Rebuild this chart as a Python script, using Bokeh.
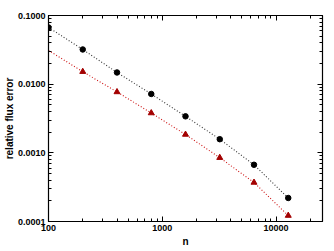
from bokeh.plotting import figure
from bokeh.models import Range1d, LogAxis, LogTicker, PrintfTickFormatter
from bokeh.embed import file_html
from bokeh.resources import INLINE

# data
n_black = [100, 200, 400, 800, 1600, 3200, 6400, 12800]
err_black = [0.067, 0.032, 0.0148, 0.0072, 0.0034, 0.00158, 0.00067, 0.00022]
n_red = [200, 400, 800, 1600, 3200, 6400, 12800]
err_red = [0.0152, 0.0077, 0.0038, 0.00185, 0.00085, 0.00037, 0.000122]
# dotted fit curves
fit_n_black = [100, 200, 400, 800, 1600, 3200, 6400, 12800]
fit_black = [0.067, 0.032, 0.0148, 0.0072, 0.0034, 0.00158, 0.00067, 0.00022]
fit_n_red = [100, 200, 400, 800, 1600, 3200, 6400, 12800]
fit_red = [0.031, 0.0152, 0.0077, 0.0038, 0.00185, 0.00085, 0.00037, 0.000122]
x_lo, x_hi = 100, 25600
y_lo, y_hi = 1e-4, 1e-1

FONT = "Liberation Sans"

p = figure(frame_width=274, frame_height=206, x_axis_type="log", y_axis_type="log",
           x_range=Range1d(x_lo, x_hi), y_range=Range1d(y_lo, y_hi),
           output_backend="svg", toolbar_location=None,
           min_border_left=38, min_border_right=6, min_border_top=15, min_border_bottom=20)
p.xgrid.visible = False
p.ygrid.visible = False
p.outline_line_color = None
p.background_fill_color = "white"
p.border_fill_color = "white"

p.line(fit_n_black, fit_black, line_color="#333333", line_dash="1 2", line_width=1.1)
p.line(fit_n_red, fit_red, line_color="#cc1111", line_dash="1 2", line_width=1.1)
p.scatter(n_black, err_black, marker="circle", size=5.5, fill_color="black", line_color="black")
p.scatter(n_red, err_red, marker="triangle", size=6, fill_color="#a30000", line_color="#a30000")


def style(ax, labels=True):
    ax.axis_line_color = "black"
    ax.axis_line_width = 1.2
    ax.major_tick_in = 5
    ax.major_tick_out = 0
    ax.minor_tick_in = 3
    ax.minor_tick_out = 0
    ax.major_tick_line_color = "black"
    ax.minor_tick_line_color = "black"
    ax.ticker = LogTicker(num_minor_ticks=10)
    if labels:
        ax.major_label_text_font = FONT
        ax.major_label_text_font_style = "bold"
        ax.major_label_text_font_size = "9px"
        ax.major_label_text_color = "black"
        ax.major_label_standoff = 3
        ax.axis_label_text_font = FONT
        ax.axis_label_text_font_style = "bold"
        ax.axis_label_text_font_size = "10px"
        ax.axis_label_text_color = "black"
    else:
        ax.major_label_text_font_size = "1px"
        ax.major_label_text_color = None
        ax.major_label_standoff = 0


xa = p.xaxis[0]
ya = p.yaxis[0]
style(xa)
style(ya)
xa.formatter = PrintfTickFormatter(format="%d")
ya.formatter = PrintfTickFormatter(format="%.4f")
xa.axis_label = "n"
ya.axis_label = "relative flux error"
xa.axis_label_standoff = 2
ya.axis_label_standoff = 0

top = LogAxis()
right = LogAxis()
style(top, labels=False)
style(right, labels=False)
p.add_layout(top, "above")
p.add_layout(right, "right")

open("out.html", "w").write(file_html(p, INLINE))
